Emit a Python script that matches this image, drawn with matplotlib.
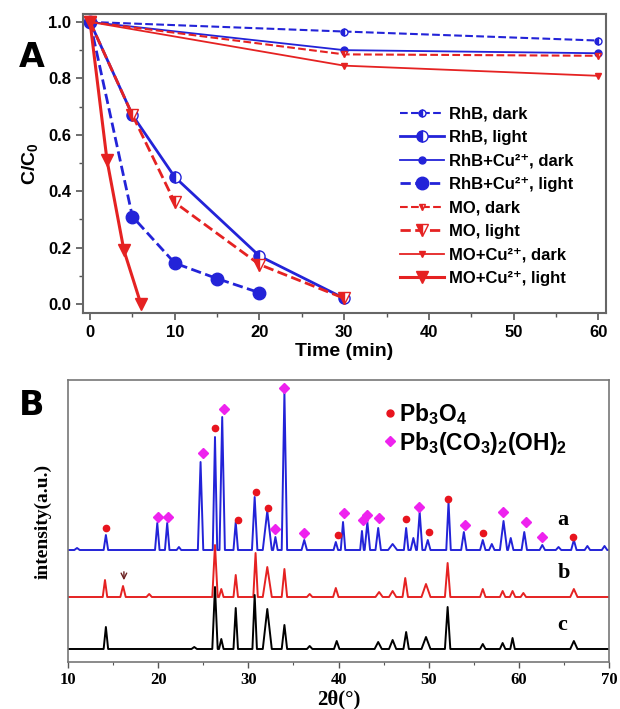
import matplotlib
matplotlib.use("Agg")
import matplotlib.pyplot as plt
from matplotlib.lines import Line2D
from matplotlib.ticker import MultipleLocator

plt.rcParams['font.family'] = ['Liberation Sans', 'DejaVu Sans']
plt.rcParams['font.weight'] = 'bold'
plt.rcParams['mathtext.fontset'] = 'custom'
plt.rcParams['mathtext.rm'] = 'Liberation Sans:bold'
plt.rcParams['mathtext.bf'] = 'Liberation Sans:bold'
plt.rcParams['mathtext.it'] = 'Liberation Sans:bold:italic'
plt.rcParams['mathtext.default'] = 'rm'

# ---- panel A: degradation curves ----
t_rhb_dark = [0, 30, 60]
c_rhb_dark = [1.0, 0.966, 0.934]
t_rhb_light = [0, 5, 10, 20, 30]
c_rhb_light = [1.0, 0.67, 0.45, 0.17, 0.02]
t_rhbcu_dark = [0, 30, 60]
c_rhbcu_dark = [1.0, 0.90, 0.889]
t_rhbcu_light = [0, 5, 10, 15, 20]
c_rhbcu_light = [1.0, 0.31, 0.145, 0.09, 0.04]
t_mo_dark = [0, 30, 60]
c_mo_dark = [1.0, 0.885, 0.88]
t_mo_light = [0, 5, 10, 20, 30]
c_mo_light = [1.0, 0.67, 0.36, 0.14, 0.02]
t_mocu_dark = [0, 30, 60]
c_mocu_dark = [1.0, 0.845, 0.809]
t_mocu_light = [0, 2, 4, 6]
c_mocu_light = [1.0, 0.51, 0.19, 0.0]

# ---- panel B: XRD patterns (peak position, height, half width), baseline ----
a_base = 112
a_pos = [11.0, 14.2, 19.9, 21.0, 22.3, 24.7, 26.3, 27.1, 28.6, 30.7, 32.1, 33.0, 34.0, 36.2,
         39.7, 40.5, 42.6, 43.2, 44.4, 46.0, 47.5, 48.3, 49.0, 49.9, 52.2, 53.9, 56.0, 57.0,
         58.3, 59.1, 60.6, 62.6, 64.4, 66.1, 67.6, 69.5]
a_h = [2, 15, 27, 27, 3, 88, 113, 133, 28, 53, 39, 13, 158, 10,
       8, 28, 19, 28, 22, 6, 22, 12, 38, 10, 48, 18, 10, 6,
       29, 12, 18, 5, 3, 10, 4, 4]
a_w = [0.3, 0.25, 0.25, 0.25, 0.25, 0.3, 0.25, 0.3, 0.25, 0.3, 0.5, 0.25, 0.3, 0.3,
       0.25, 0.25, 0.2, 0.3, 0.3, 0.5, 0.25, 0.3, 0.3, 0.3, 0.25, 0.3, 0.3, 0.3,
       0.4, 0.3, 0.3, 0.3, 0.3, 0.3, 0.3, 0.3]

b_base = 65
b_pos = [14.1, 16.1, 19.0, 26.3, 27.0, 28.6, 30.8, 32.1, 34.0, 36.8, 39.7, 44.5, 46.0, 47.4,
         49.7, 52.1, 56.0, 58.2, 59.3, 60.5, 66.1]
b_h = [17, 11, 3, 52, 8, 22, 44, 30, 28, 3, 9, 5, 6, 19, 13, 34, 8, 6, 6, 4, 8]
b_w = [0.25, 0.3, 0.3, 0.3, 0.25, 0.25, 0.25, 0.5, 0.3, 0.3, 0.3, 0.4, 0.4, 0.3,
       0.5, 0.3, 0.3, 0.3, 0.3, 0.3, 0.4]

c_base = 13
c_pos = [14.2, 24.0, 26.3, 27.0, 28.6, 30.7, 32.1, 34.0, 36.8, 39.8, 44.4, 46.0, 47.5,
         49.7, 52.1, 56.0, 58.2, 59.3, 66.1]
c_h = [22, 2, 62, 10, 41, 54, 40, 24, 3, 8, 7, 9, 17, 12, 42, 5, 6, 11, 8]
c_w = [0.25, 0.3, 0.3, 0.25, 0.25, 0.25, 0.5, 0.3, 0.3, 0.3, 0.4, 0.4, 0.3,
       0.5, 0.3, 0.3, 0.3, 0.25, 0.4]

# phase markers above pattern a
pb3o4_x = [14.2, 26.3, 28.8, 30.8, 32.2, 39.9, 47.5, 50.0, 52.1, 56.0, 66.0]
pb3o4_y = [134, 234, 142, 170, 154, 127, 143, 130, 163, 129, 125]
carb_x = [20.0, 21.1, 25.0, 27.3, 33.0, 34.0, 36.2, 40.6, 42.75, 43.2, 44.5, 48.9,
          54.0, 58.2, 60.8, 62.6]
carb_y = [145, 145, 209, 253, 133, 274, 129, 149, 142, 147, 144, 155, 137, 150, 140, 125]

BLUE = '#2323d8'
RED = '#e52222'


def pattern(base, pos, h, w):
    xs, ys = [10], [base]
    for p, hh, ww in sorted(zip(pos, h, w)):
        xs += [p - ww, p, p + ww]
        ys += [base, base + hh, base]
    xs.append(70)
    ys.append(base)
    return xs, ys


fig = plt.figure(figsize=(6.2, 7.09), dpi=100)

# ================= panel A =================
ax = fig.add_axes([0.1339, 0.5585, 0.8435, 0.4217])
ax.plot(t_rhb_dark, c_rhb_dark, ls='--', color=BLUE, lw=1.5, marker='o', ms=5,
        fillstyle='left', markerfacecoloralt='white', label='RhB, dark')
ax.plot(t_rhb_light, c_rhb_light, ls='-', color=BLUE, lw=2, marker='o', ms=8,
        fillstyle='left', markerfacecoloralt='white', label='RhB, light')
ax.plot(t_rhbcu_dark, c_rhbcu_dark, ls='-', color=BLUE, lw=1.3, marker='o', ms=5,
        label='RhB+Cu²⁺, dark')
ax.plot(t_rhbcu_light, c_rhbcu_light, ls='--', color=BLUE, lw=2, marker='o', ms=9,
        label='RhB+Cu²⁺, light')
ax.plot(t_mo_dark, c_mo_dark, ls='--', color=RED, lw=1.5, marker='v', ms=5,
        fillstyle='left', markerfacecoloralt='white', label='MO, dark')
ax.plot(t_mo_light, c_mo_light, ls='--', color=RED, lw=2, marker='v', ms=9,
        fillstyle='left', markerfacecoloralt='white', label='MO, light')
ax.plot(t_mocu_dark, c_mocu_dark, ls='-', color=RED, lw=1.3, marker='v', ms=5,
        label='MO+Cu²⁺, dark')
ax.plot(t_mocu_light, c_mocu_light, ls='-', color=RED, lw=2.2, marker='v', ms=9,
        label='MO+Cu²⁺, light')

ax.set_xlim(-0.83, 60.9)
ax.set_ylim(-0.032, 1.028)
ax.xaxis.set_major_locator(MultipleLocator(10))
ax.xaxis.set_minor_locator(MultipleLocator(5))
ax.yaxis.set_major_locator(MultipleLocator(0.2))
ax.yaxis.set_minor_locator(MultipleLocator(0.1))
ax.tick_params(which='major', direction='out', length=5, width=1.2, labelsize=12,
               color='#555555')
ax.tick_params(which='minor', direction='out', length=3, width=1.0, color='#555555')
for s in ax.spines.values():
    s.set_color('#666666')
    s.set_linewidth(1.5)
ax.set_xlabel('Time (min)', fontsize=14, fontweight='bold', labelpad=2)
ax.set_ylabel('C/C$_0$', fontsize=14, fontweight='bold', labelpad=6)
ax.legend(loc='center', bbox_to_anchor=(0.772, 0.39), frameon=False, fontsize=12,
          handlelength=2.6, labelspacing=0.51, handletextpad=0.3)
fig.text(0.03, 0.906, 'A', fontsize=24, fontweight='heavy', family='DejaVu Sans')

# ================= panel B =================
bx = fig.add_axes([0.1097, 0.0663, 0.8726, 0.3977])
for base, pos, h, w, col in [(a_base, a_pos, a_h, a_w, BLUE),
                             (b_base, b_pos, b_h, b_w, RED),
                             (c_base, c_pos, c_h, c_w, 'black')]:
    xs, ys = pattern(base, pos, h, w)
    bx.plot(xs, ys, color=col, lw=1.4)
bx.plot(pb3o4_x, pb3o4_y, ls='none', marker='o', ms=4.5, color='#e8141e')
bx.plot(carb_x, carb_y, ls='none', marker='D', ms=5, color='#ee22ee')
bx.annotate('', xy=(16.2, 79), xytext=(16.2, 93),
            arrowprops=dict(arrowstyle='->', color='#6a2020', lw=1))

for lab, yy in [('a', 142), ('b', 89), ('c', 37)]:
    bx.text(64.3, yy, lab, fontsize=16, fontweight='bold', family='Liberation Serif',
            va='center')

bx.set_xlim(10, 70)
bx.set_ylim(0, 282)
bx.set_yticks([])
bx.xaxis.set_major_locator(MultipleLocator(10))
bx.xaxis.set_minor_locator(MultipleLocator(5))
bx.tick_params(which='major', direction='out', length=4, width=1.0, color='#555555')
bx.tick_params(which='minor', direction='out', length=2.5, width=0.8, color='#555555')
for lbl in bx.get_xticklabels():
    lbl.set_family('Liberation Serif')
    lbl.set_fontsize(12)
    lbl.set_fontweight('bold')
for s in bx.spines.values():
    s.set_color('#777777')
    s.set_linewidth(1.2)
bx.set_xlabel('2θ(°)', fontsize=15, fontweight='bold', family='Liberation Serif',
              labelpad=1)
bx.set_ylabel('intensity(a.u.)', fontsize=14, fontweight='bold',
              family='Liberation Serif', labelpad=12)

handles = [Line2D([], [], ls='none', marker='o', ms=5, color='#e8141e'),
           Line2D([], [], ls='none', marker='D', ms=5, color='#ee22ee')]
bx.legend(handles, ['$\\mathbf{Pb_3O_4}$', '$\\mathbf{Pb_3(CO_3)_2(OH)_2}$'],
          loc='upper left', bbox_to_anchor=(0.565, 0.957), frameon=False, fontsize=16.5,
          handlelength=0.6, handletextpad=0.1, labelspacing=0.1, borderaxespad=0)
fig.text(0.03, 0.415, 'B', fontsize=24, fontweight='heavy', family='DejaVu Sans')

fig.savefig('out.png', dpi=100)
